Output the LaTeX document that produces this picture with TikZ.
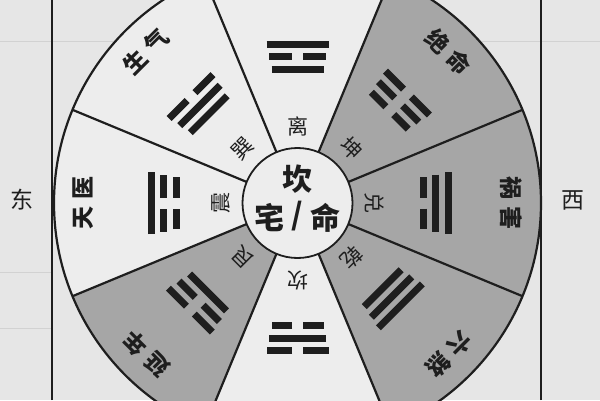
\documentclass[tikz,border=0pt]{standalone}
\usepackage{fontspec}
\newfontfamily\cjk{Noto Sans CJK SC}
\usetikzlibrary{calc}
\definecolor{paper}{HTML}{E6E6E6}
\definecolor{wsec}{HTML}{EDEDED}
\definecolor{gsec}{HTML}{A6A6A6}
\definecolor{ink}{HTML}{1E1E1E}
\definecolor{faint}{HTML}{D2D2D2}
\tikzset{
  ln/.style={draw=ink, line width=2.2pt},
  tri/.style={draw=ink, line width=7pt, line cap=butt},
  inner lab/.style={font=\cjk\fontsize{21}{21}\selectfont, text=ink, inner sep=0pt},
  outer lab/.style={font=\cjk\bfseries\fontsize{23}{23}\selectfont, text=ink, inner sep=0pt},
  center lab/.style={font=\cjk\bfseries\fontsize{30}{30}\selectfont, text=ink, inner sep=0pt},
  side lab/.style={font=\cjk\fontsize{23}{23}\selectfont, text=ink, inner sep=0pt},
  grid line/.style={draw=faint, line width=1pt}
}
\newcommand{\yangline}[2]{\draw[tri] (-#2,#1) -- (#2,#1);}
\newcommand{\yinline}[2]{\draw[tri] (-#2,#1) -- (-5.5,#1); \draw[tri] (5.5,#1) -- (#2,#1);}
\newcommand{\triline}[3]{\ifnum#1=1 \yangline{#2}{#3}\else\yinline{#2}{#3}\fi}
\begin{document}
\begin{tikzpicture}[x=1pt,y=1pt]
\useasboundingbox (0,0) rectangle (600,400);
\clip (0,0) rectangle (600,400);
\fill[paper] (0,0) rectangle (600,400);
% faint grid of the paper
\draw[grid line] (0,358) -- (600,358);
\draw[grid line] (0,128) -- (52,128);
\draw[grid line] (0,72) -- (52,72);
\draw[grid line] (193,400) -- (193,358);
\coordinate (C) at (297.5,197);
% disc and sectors
\fill[wsec] (C) circle[radius=243.5];
\foreach \a in {45,0,-45,-135}
  \fill[gsec] (C) -- ++(\a-22.5:243.5) arc[start angle=\a-22.5, end angle=\a+22.5, radius=243.5] -- cycle;
\fill[wsec] (C) circle[radius=55];
\foreach \a in {22.5,67.5,...,337.5}
  \draw[ln] ($(C)+(\a:55)$) -- ($(C)+(\a:243.5)$);
\draw[ln] (C) circle[radius=243.5];
\draw[ln, line width=1.8pt] (C) circle[radius=55];
% side lines
\draw[ln, line width=1.8pt] (52,0) -- (52,400);
\draw[ln, line width=1.8pt] (541,0) -- (541,400);
% trigrams: outer line = bottom line
\foreach \a/\r/\p/\q/\s in {90/146/1/0/1, 135/138/0/1/1, 180/134/1/0/0, 225/139/0/0/1,
                             270/135/0/1/0, 315/133/1/1/1, 0/138/1/1/0, 45/143/0/0/0}{
  \begin{scope}[shift={(C)}, rotate=\a-90]
    \pgfmathsetmacro{\ro}{\r+12.5}
    \pgfmathsetmacro{\ri}{\r-12.5}
    \triline{\p}{\ro}{31}
    \triline{\q}{\r}{28.5}
    \triline{\s}{\ri}{26}
  \end{scope}
}
% labels
\foreach \a/\nm/\io/\oa/\ob in {90/li/离/{}/{}, 135/xun/巽/生/气, 180/zhen/震/天/医, 225/gen/艮/延/年,
                            270/kan/坎/{}/{}, 315/qian/乾/六/煞, 0/dui/兑/祸/害, 45/kun/坤/绝/命}{
  \begin{scope}[shift={(C)}, rotate=\a-90, transform shape]
    \node[inner lab] (in-\nm) at (0,77) {\io};
    \node[outer lab] (out-\nm) at (0,214) {\oa\hspace{7pt}\ob};
  \end{scope}
}
\node[center lab] (c-kan) at ($(C)+(0,24)$) {坎};
\node[center lab] (c-zhai) at ($(C)+(-28,-15)$) {宅};
\node[center lab] (c-slash) at ($(C)+(0,-13)$) {/};
\node[center lab] (c-ming) at ($(C)+(28,-15)$) {命};
\node[side lab] (east) at (22,200) {东};
\node[side lab] (west) at (573,200) {西};
\end{tikzpicture}
\end{document}
